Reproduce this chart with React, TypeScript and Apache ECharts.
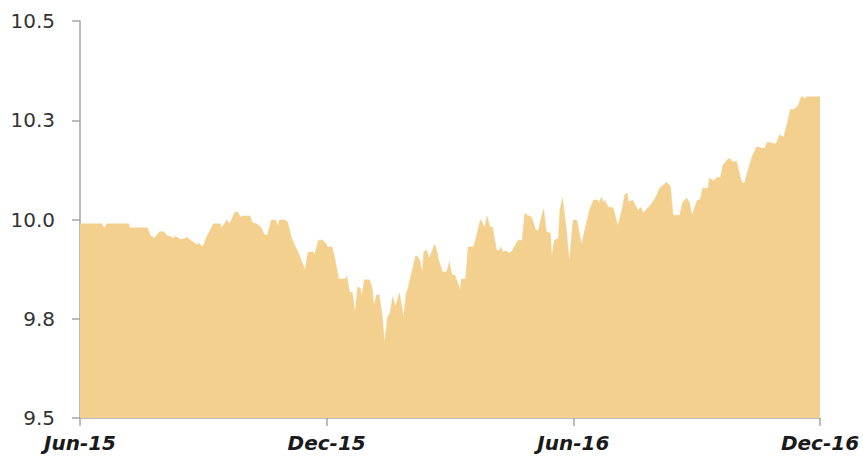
import React, { useEffect, useRef } from "react";
import * as echarts from "echarts";

const dates: string[] = [
  "2015-06-01","2015-06-17","2015-06-19","2015-06-21","2015-07-07","2015-07-08","2015-07-21","2015-07-23","2015-07-26","2015-07-30",
  "2015-08-02","2015-08-05","2015-08-07","2015-08-09","2015-08-11","2015-08-14","2015-08-17","2015-08-19","2015-08-22","2015-08-27",
  "2015-08-28","2015-08-31","2015-09-03","2015-09-08","2015-09-13","2015-09-14","2015-09-18","2015-09-20","2015-09-24","2015-09-26",
  "2015-09-28","2015-09-30","2015-10-05","2015-10-07","2015-10-10","2015-10-13","2015-10-16","2015-10-18","2015-10-21","2015-10-24",
  "2015-10-26","2015-10-27","2015-10-31","2015-11-02","2015-11-05","2015-11-09","2015-11-10","2015-11-13","2015-11-15","2015-11-17",
  "2015-11-19","2015-11-21","2015-11-22","2015-11-25","2015-11-28","2015-11-30","2015-12-02","2015-12-05","2015-12-07","2015-12-10",
  "2015-12-15","2015-12-16","2015-12-18","2015-12-20","2015-12-22","2015-12-24","2015-12-26","2015-12-27","2015-12-29","2016-01-02",
  "2016-01-04","2016-01-05","2016-01-07","2016-01-09","2016-01-11","2016-01-13","2016-01-15","2016-01-17","2016-01-19","2016-01-21",
  "2016-01-22","2016-01-24","2016-01-27","2016-01-29","2016-01-30","2016-02-02","2016-02-05","2016-02-06","2016-02-08","2016-02-10",
  "2016-02-11","2016-02-13","2016-02-15","2016-02-17","2016-02-19","2016-02-21","2016-02-22","2016-02-25","2016-02-28","2016-03-01",
  "2016-03-03","2016-03-05","2016-03-07","2016-03-09","2016-03-10","2016-03-13","2016-03-15","2016-03-19","2016-03-22","2016-03-24",
  "2016-03-25","2016-03-27","2016-03-29","2016-03-31","2016-04-02","2016-04-05","2016-04-07","2016-04-08","2016-04-10","2016-04-12",
  "2016-04-14","2016-04-16","2016-04-19","2016-04-21","2016-04-24","2016-04-26","2016-04-28","2016-05-01","2016-05-04","2016-05-06",
  "2016-05-09","2016-05-10","2016-05-12","2016-05-15","2016-05-16","2016-05-18","2016-05-21","2016-05-22","2016-05-24","2016-05-27",
  "2016-05-29","2016-05-31","2016-06-01","2016-06-03","2016-06-04","2016-06-07","2016-06-10","2016-06-13","2016-06-16","2016-06-19",
  "2016-06-20","2016-06-22","2016-06-23","2016-06-24","2016-06-27","2016-06-30","2016-07-01","2016-07-04","2016-07-06","2016-07-08",
  "2016-07-09","2016-07-11","2016-07-12","2016-07-15","2016-07-16","2016-07-19","2016-07-21","2016-07-23","2016-07-26","2016-07-29",
  "2016-08-02","2016-08-04","2016-08-07","2016-08-09","2016-08-12","2016-08-14","2016-08-19","2016-08-21","2016-08-24","2016-08-26",
  "2016-08-28","2016-09-01","2016-09-03","2016-09-05","2016-09-09","2016-09-10","2016-09-13","2016-09-16","2016-09-18","2016-09-20",
  "2016-09-23","2016-09-25","2016-09-27","2016-09-30","2016-10-03","2016-10-04","2016-10-06","2016-10-09","2016-10-12","2016-10-14",
  "2016-10-15","2016-10-18","2016-10-21","2016-10-23","2016-10-26","2016-10-29","2016-10-30","2016-11-01","2016-11-04","2016-11-07",
  "2016-11-09","2016-11-12","2016-11-15","2016-11-17","2016-11-18","2016-11-20","2016-11-21","2016-12-01"
];

const values: number[] = [
  9.989, 9.989, 9.979, 9.989, 9.989, 9.979, 9.979, 9.961, 9.953, 9.969,
  9.969, 9.958, 9.958, 9.953, 9.958, 9.951, 9.951, 9.956, 9.948, 9.936,
  9.941, 9.931, 9.956, 9.989, 9.989, 9.979, 9.999, 9.989, 10.019, 10.019,
  10.006, 10.009, 10.009, 9.991, 9.989, 9.981, 9.961, 9.961, 9.999, 9.999,
  9.984, 9.999, 9.999, 9.994, 9.953, 9.923, 9.916, 9.890, 9.873, 9.916,
  9.918, 9.918, 9.911, 9.948, 9.948, 9.941, 9.931, 9.931, 9.903, 9.850,
  9.850, 9.858, 9.817, 9.817, 9.764, 9.830, 9.827, 9.805, 9.848, 9.848,
  9.822, 9.782, 9.810, 9.810, 9.764, 9.689, 9.752, 9.764, 9.805, 9.780,
  9.792, 9.815, 9.754, 9.817, 9.822, 9.865, 9.908, 9.908, 9.898, 9.865,
  9.918, 9.923, 9.903, 9.918, 9.938, 9.918, 9.898, 9.868, 9.868, 9.893,
  9.860, 9.860, 9.843, 9.822, 9.850, 9.850, 9.931, 9.931, 9.969, 9.999,
  9.996, 9.979, 10.009, 9.981, 9.981, 9.923, 9.921, 9.931, 9.918, 9.921,
  9.916, 9.918, 9.936, 9.948, 9.948, 10.016, 10.011, 10.006, 9.974, 9.971,
  10.016, 10.026, 9.969, 9.966, 9.906, 9.948, 9.953, 10.024, 10.054, 9.969,
  9.893, 9.969, 9.999, 9.999, 9.994, 9.936, 9.981, 10.024, 10.049, 10.049,
  10.042, 10.057, 10.042, 10.049, 10.031, 10.031, 10.024, 9.984, 10.011, 10.039,
  10.062, 10.067, 10.044, 10.049, 10.042, 10.024, 10.031, 10.016, 10.029, 10.039,
  10.062, 10.079, 10.087, 10.094, 10.084, 10.011, 10.011, 10.042, 10.054, 10.044,
  10.011, 10.049, 10.049, 10.079, 10.079, 10.105, 10.097, 10.107, 10.105, 10.137,
  10.150, 10.155, 10.145, 10.147, 10.105, 10.092, 10.092, 10.130, 10.162, 10.175,
  10.183, 10.180, 10.180, 10.195, 10.193, 10.190, 10.195, 10.213, 10.208, 10.246,
  10.278, 10.278, 10.288, 10.309, 10.309, 10.304, 10.309, 10.309
];

const tickDates: string[] = ["2015-06-01", "2015-12-01", "2016-06-01", "2016-12-01"];
const tickLabels: string[] = ["Jun-15", "Dec-15", "Jun-16", "Dec-16"];

const yMin = 9.5;
const yMax = 10.5;
const yStep = 0.25;

function ts(s: string): number {
  const [y, m, d] = s.split("-").map(Number);
  return Date.UTC(y, m - 1, d);
}

export default function App() {
  const ref = useRef<HTMLDivElement>(null);

  useEffect(() => {
    if (!ref.current) return;
    const chart = echarts.init(ref.current, null, { renderer: "svg" });
    const tickTs = tickDates.map(ts);
    const data = dates.map((d, i) => [ts(d), values[i]]);

    chart.setOption({
      animation: false,
      grid: { left: 80, right: 43, top: 21, bottom: 42, containLabel: false },
      xAxis: {
        type: "value",
        min: tickTs[0],
        max: tickTs[tickTs.length - 1],
        axisLine: { show: true, lineStyle: { color: "#a6a6a6", width: 1.5 } },
        axisTick: {
          show: true,
          length: 8,
          customValues: tickTs,
          lineStyle: { color: "#a6a6a6", width: 1.5 },
        },
        axisLabel: {
          customValues: tickTs,
          margin: 15,
          fontFamily: "DejaVu Sans",
          fontSize: 20,
          fontWeight: "bold",
          fontStyle: "italic",
          color: "#1a1a1a",
          formatter: (v: number) => {
            let best = 0;
            tickTs.forEach((t, i) => {
              if (Math.abs(t - v) < Math.abs(tickTs[best] - v)) best = i;
            });
            return tickLabels[best];
          },
        },
        splitLine: { show: false },
      },
      yAxis: {
        type: "value",
        min: yMin,
        max: yMax,
        interval: yStep,
        axisLine: { show: true, lineStyle: { color: "#a6a6a6", width: 1.5 } },
        axisTick: { show: true, length: 8, lineStyle: { color: "#a6a6a6", width: 1.5 } },
        axisLabel: {
          margin: 25,
          fontFamily: "DejaVu Sans",
          fontSize: 20,
          color: "#333333",
          formatter: (v: number) => v.toFixed(1),
        },
        splitLine: { show: false },
      },
      series: [
        {
          type: "line",
          data,
          showSymbol: false,
          lineStyle: { width: 0.5, color: "#F3D08E" },
          areaStyle: { color: "#F3D08E", opacity: 1 },
          z: 1,
        },
      ],
    });

    return () => chart.dispose();
  }, []);

  return (
    <div
      ref={ref}
      style={{ position: "fixed", left: 0, top: 0, width: 863, height: 460, background: "#ffffff" }}
    />
  );
}
